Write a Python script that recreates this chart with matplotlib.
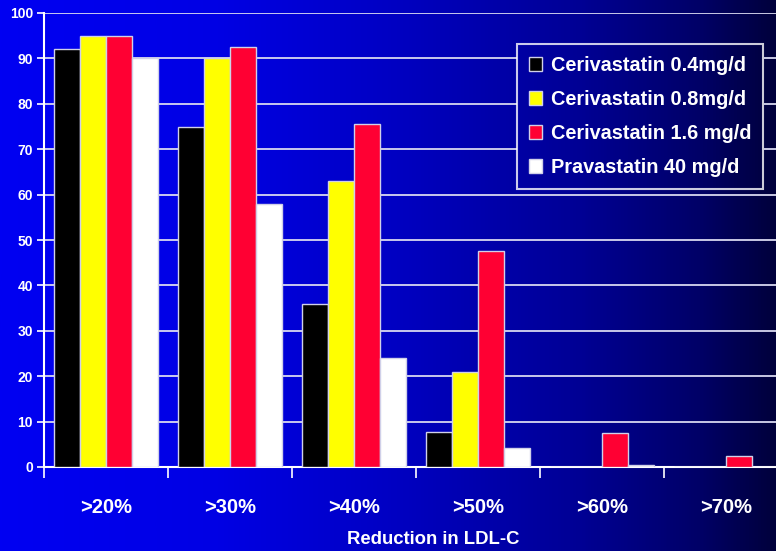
import numpy as np
import matplotlib
matplotlib.use("Agg")
import matplotlib.pyplot as plt
from matplotlib.colors import LinearSegmentedColormap
from matplotlib.patches import Patch

plt.rcParams['font.family'] = ['Liberation Sans', 'DejaVu Sans']
plt.rcParams['font.weight'] = 'bold'

categories = [">20%", ">30%", ">40%", ">50%", ">60%", ">70%"]
series_names = ["Cerivastatin 0.4mg/d", "Cerivastatin 0.8mg/d",
                "Cerivastatin 1.6 mg/d", "Pravastatin 40 mg/d"]
ceri_04 = [92, 75, 36, 7.8, 0, 0]
ceri_08 = [95, 90, 63, 21, 0, 0]
ceri_16 = [95, 92.5, 75.5, 47.5, 7.5, 2.5]
prava_40 = [90, 58, 24, 4.2, 0.5, 0]
yticks = list(range(0, 101, 10))

values = [ceri_04, ceri_08, ceri_16, prava_40]
colors = ["#000000", "#FFFF00", "#FF0033", "#FFFFFF"]

W, H = 776, 551
fig = plt.figure(figsize=(W / 100, H / 100), dpi=100)

# horizontal blue-to-navy background
cmap = LinearSegmentedColormap.from_list(
    "bg", [(0.0, "#0000F2"), (0.28, "#0000E4"), (0.5, "#0000C4"),
           (0.75, "#000094"), (0.9, "#000068"), (1.0, "#00003C")])
bg = fig.add_axes([0, 0, 1, 1], zorder=-10)
grad = np.linspace(0, 1, 512).reshape(1, -1)
bg.imshow(grad, aspect="auto", cmap=cmap, vmin=0, vmax=1,
          extent=[0, 1, 0, 1])
bg.set_axis_off()

x0, x1 = 44, 788
y0, y1 = 467, 13
ax = fig.add_axes([x0 / W, (H - y0) / H, (x1 - x0) / W, (y0 - y1) / H],
                  zorder=0)
ax.patch.set_alpha(0)

n = len(categories)
bw = 0.21
centers = np.arange(n) + 0.5
for i, (vals, c) in enumerate(zip(values, colors)):
    xs = centers + (i - 1.5) * bw
    ax.bar(xs, vals, width=bw, color=c, edgecolor="#D0D0E8",
           linewidth=1.0, zorder=3)

ax.set_xlim(0, n)
ax.set_ylim(0, 100)
ax.set_yticks(yticks)
ax.set_yticklabels([str(t) for t in yticks], color="white",
                   fontsize=10, fontweight="bold")
ax.yaxis.grid(True, color="#D8D8F0", linewidth=1.3, zorder=0)
ax.set_axisbelow(True)

ax.set_xticks(np.arange(n + 1))
ax.set_xticklabels([])
ax.set_xticks(centers, minor=True)
ax.set_xticklabels(categories, minor=True, color="white",
                   fontsize=14.5, fontweight="bold")
ax.tick_params(axis="x", which="major", direction="out", length=8,
               color="white", width=1.2)
ax.tick_params(axis="x", which="minor", length=0, pad=22)
ax.tick_params(axis="y", direction="out", length=5, color="white",
               width=1.2, pad=3)

for s in ["top", "right"]:
    ax.spines[s].set_visible(False)
for s in ["left", "bottom"]:
    ax.spines[s].set_color("white")
    ax.spines[s].set_linewidth(1.5)

fig.text(433 / W, 1 - 540 / H, "Reduction in LDL-C", color="white",
         fontsize=13.3, fontweight="bold", ha="center", va="center")

handles = [Patch(facecolor=c, edgecolor="#D0D0E8", linewidth=1.0)
           for c in colors]
leg = fig.legend(handles, series_names, loc="upper left",
                 bbox_to_anchor=(517 / W, 1 - 44 / H),
                 frameon=True, fancybox=False,
                 prop={"weight": "bold", "size": 14.3},
                 handlelength=0.65, handleheight=0.7, handletextpad=0.45,
                 labelspacing=0.75, borderpad=0.6, borderaxespad=0)
leg.set_zorder(10)
frame = leg.get_frame()
frame.set_facecolor("none")
frame.set_edgecolor("white")
frame.set_linewidth(1.5)
for t in leg.get_texts():
    t.set_color("white")

# legend box filled with its slice of the background, hiding the grid
fig.canvas.draw()
bb = leg.get_window_extent().transformed(fig.transFigure.inverted())
lbg = fig.add_axes([bb.x0, bb.y0, bb.width, bb.height], zorder=5)
slice_grad = np.linspace(bb.x0, bb.x1, 256).reshape(1, -1)
lbg.imshow(slice_grad, aspect="auto", cmap=cmap, vmin=0, vmax=1,
           extent=[0, 1, 0, 1])
lbg.set_axis_off()

fig.savefig("out.png", dpi=100)
